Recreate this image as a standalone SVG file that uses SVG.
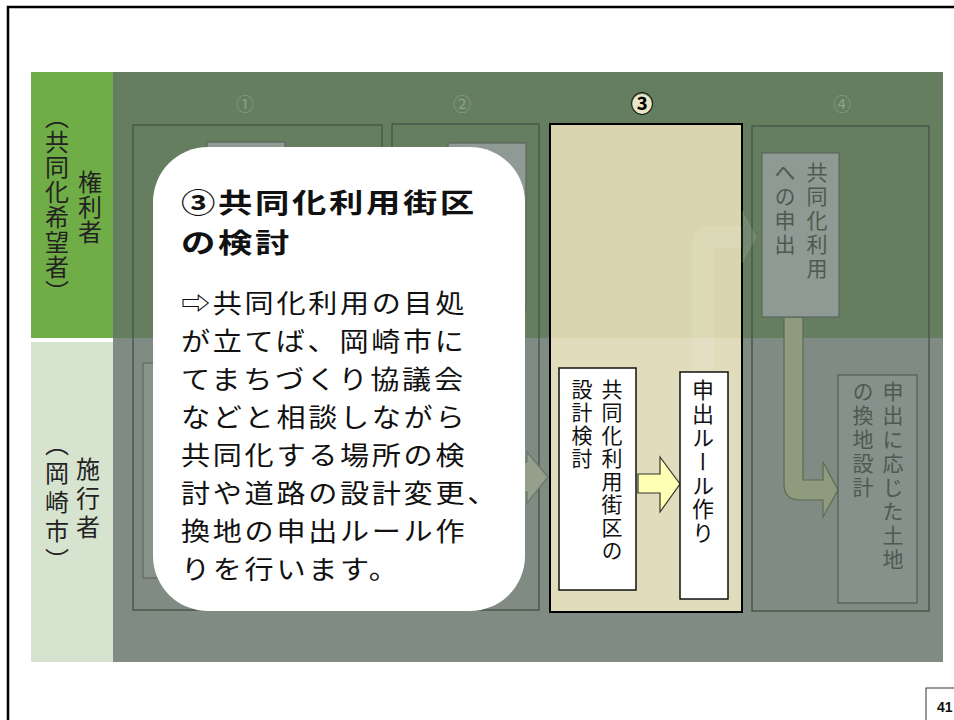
<svg xmlns="http://www.w3.org/2000/svg" width="954" height="720" viewBox="0 0 954 720">
<style>
.jp{font-family:"Noto Sans CJK JP","Noto Sans CJK SC",sans-serif}
.v{writing-mode:vertical-rl}
.lab{font-size:24px;fill:#222}
.hdr{font-size:18px;fill:#8FA08A;text-anchor:middle}
.col{fill:none;stroke:#4A5A49;stroke-width:1.5}
.inner{fill:#8E9A93;stroke:#5A665D;stroke-width:1.2}
.wbox{fill:#fff;stroke:#111;stroke-width:1.5}
.t3{font-size:21px;fill:#111;letter-spacing:2px}
.t4{font-size:21px;fill:#4D5A50;letter-spacing:3px}
.body{font-size:26px;fill:#111;letter-spacing:2.4px}
.title{font-size:27.5px;font-weight:700;fill:#111;letter-spacing:2.1px}
</style>
<rect width="954" height="720" fill="#fff"/>
<g id="page-frame">
<path d="M8,720 L8,7 L954,7" fill="none" stroke="#000" stroke-width="2.5"/>
</g>
<g id="lane-holders">
<rect x="31" y="72" width="82" height="266" fill="#70AD47"/>
<text class="jp v lab" x="90" y="170" style="letter-spacing:1px">権利者</text>
<text class="jp v lab" x="57" y="105" style="letter-spacing:1px">（共同化希望者）</text>
</g>
<g id="lane-city">
<rect x="31" y="342" width="82" height="320" fill="#D6E3CF"/>
<text class="jp v lab" x="88" y="457" style="letter-spacing:5px">施行者</text>
<text class="jp v lab" x="57" y="432" style="letter-spacing:5px">（岡崎市）</text>
</g>
<g id="panel">
<rect x="113" y="72" width="830" height="266" fill="#647E5F"/>
<rect x="113" y="338" width="830" height="324" fill="#7F8B83"/>
</g>
<g id="step1">
<text class="jp hdr" x="245" y="111">①</text>
<rect class="col" x="133" y="125" width="249" height="485"/>
<rect class="inner" x="207" y="142" width="78" height="150"/>
<rect x="143" y="363" width="80" height="215" fill="#87928B" stroke="#5F6A62" stroke-width="1.2"/>
</g>
<g id="step2">
<text class="jp hdr" x="462" y="111">②</text>
<rect class="col" x="392" y="124" width="147" height="486"/>
<rect class="inner" x="448" y="143" width="78" height="165"/>
</g>
<g id="step3">
<circle cx="642" cy="104" r="10" fill="#E9E5C6"/>
<text class="jp" x="642" y="112" font-size="23" font-weight="700" fill="#000" text-anchor="middle">③</text>
<rect x="550" y="124" width="192" height="214" fill="#D9D5AF"/>
<rect x="550" y="338" width="192" height="274" fill="#E1DCBC"/>
<rect x="550" y="124" width="192" height="488" fill="none" stroke="#000" stroke-width="2"/>
</g>
<g id="step4">
<text class="jp hdr" x="842" y="111">④</text>
<rect class="col" x="752" y="126" width="177" height="485"/>
</g>
<g id="connectors">
<path d="M512,462 L527,462 L527,452 L548,477 L527,503 L527,492 L512,492 Z" fill="#94A08C" stroke="#6B7768" stroke-width="1.2"/>
<path d="M693,372 L693,243 Q693,227 709,227 L742,227 L742,211 L756,237 L742,263 L742,247 L713,247 L713,372 Z" fill="#fff" fill-opacity="0.1" stroke="#fff" stroke-opacity="0.08" stroke-width="1"/>
<path d="M638,474 L660,474 L660,457 L680,484 L660,512 L660,493 L638,493 Z" fill="#FFFFB3" stroke="#333" stroke-width="1.2"/>
<path d="M784,317 L803,317 L803,480 L823,480 L823,462 L838,490 L823,517 L823,500 L800,500 Q784,500 784,484 Z" fill="#8F9B7D" stroke="#5E6B55" stroke-width="1.2"/>
</g>
<g id="box-design">
<rect class="wbox" x="559" y="368" width="77" height="222"/>
<text class="jp v t3" x="612" y="379">共同化利用街区の</text>
<text class="jp v t3" x="582" y="379">設計検討</text>
</g>
<g id="box-rule">
<rect class="wbox" x="680" y="372" width="48" height="227"/>
<text class="jp v" x="703" y="379" font-size="22" fill="#111" style="letter-spacing:1.8px">申出ルール作り</text>
</g>
<g id="box-apply">
<rect class="inner" x="762" y="153" width="77" height="164"/>
<text class="jp v t4" x="817" y="162">共同化利用</text>
<text class="jp v t4" x="785" y="162">への申出</text>
</g>
<g id="box-replot">
<rect x="838" y="375" width="79" height="228" fill="#85918A" stroke="#535E56" stroke-width="1.2"/>
<text class="jp v t4" x="893" y="381">申出に応じた土地</text>
<text class="jp v t4" x="863" y="381">の換地設計</text>
</g>
<g id="callout">
<rect x="153" y="147" width="372" height="464" rx="55" ry="55" fill="#fff"/>
<g transform="translate(181,0) scale(1.25,1)">
<text class="jp title" x="0" y="213">③共同化利用街区</text>
<text class="jp title" x="0" y="253">の検討</text>
</g>
<g transform="translate(181,0) scale(1.12,1)">
<text class="jp body">
<tspan x="0" y="313">⇨共同化利用の目処</tspan>
<tspan x="0" y="351">が立てば、岡崎市に</tspan>
<tspan x="0" y="389">てまちづくり協議会</tspan>
<tspan x="0" y="427">などと相談しながら</tspan>
<tspan x="0" y="465">共同化する場所の検</tspan>
<tspan x="0" y="503">討や道路の設計変更、</tspan>
<tspan x="0" y="541">換地の申出ルール作</tspan>
<tspan x="0" y="579">りを行います。</tspan>
</text>
</g>
</g>
<g id="page-number">
<rect x="926" y="688" width="40" height="40" fill="#fff" stroke="#333" stroke-width="1"/>
<text x="937" y="712" font-family="Liberation Sans, Arial, sans-serif" font-size="14" font-weight="700" fill="#111">41</text>
</g>
</svg>
